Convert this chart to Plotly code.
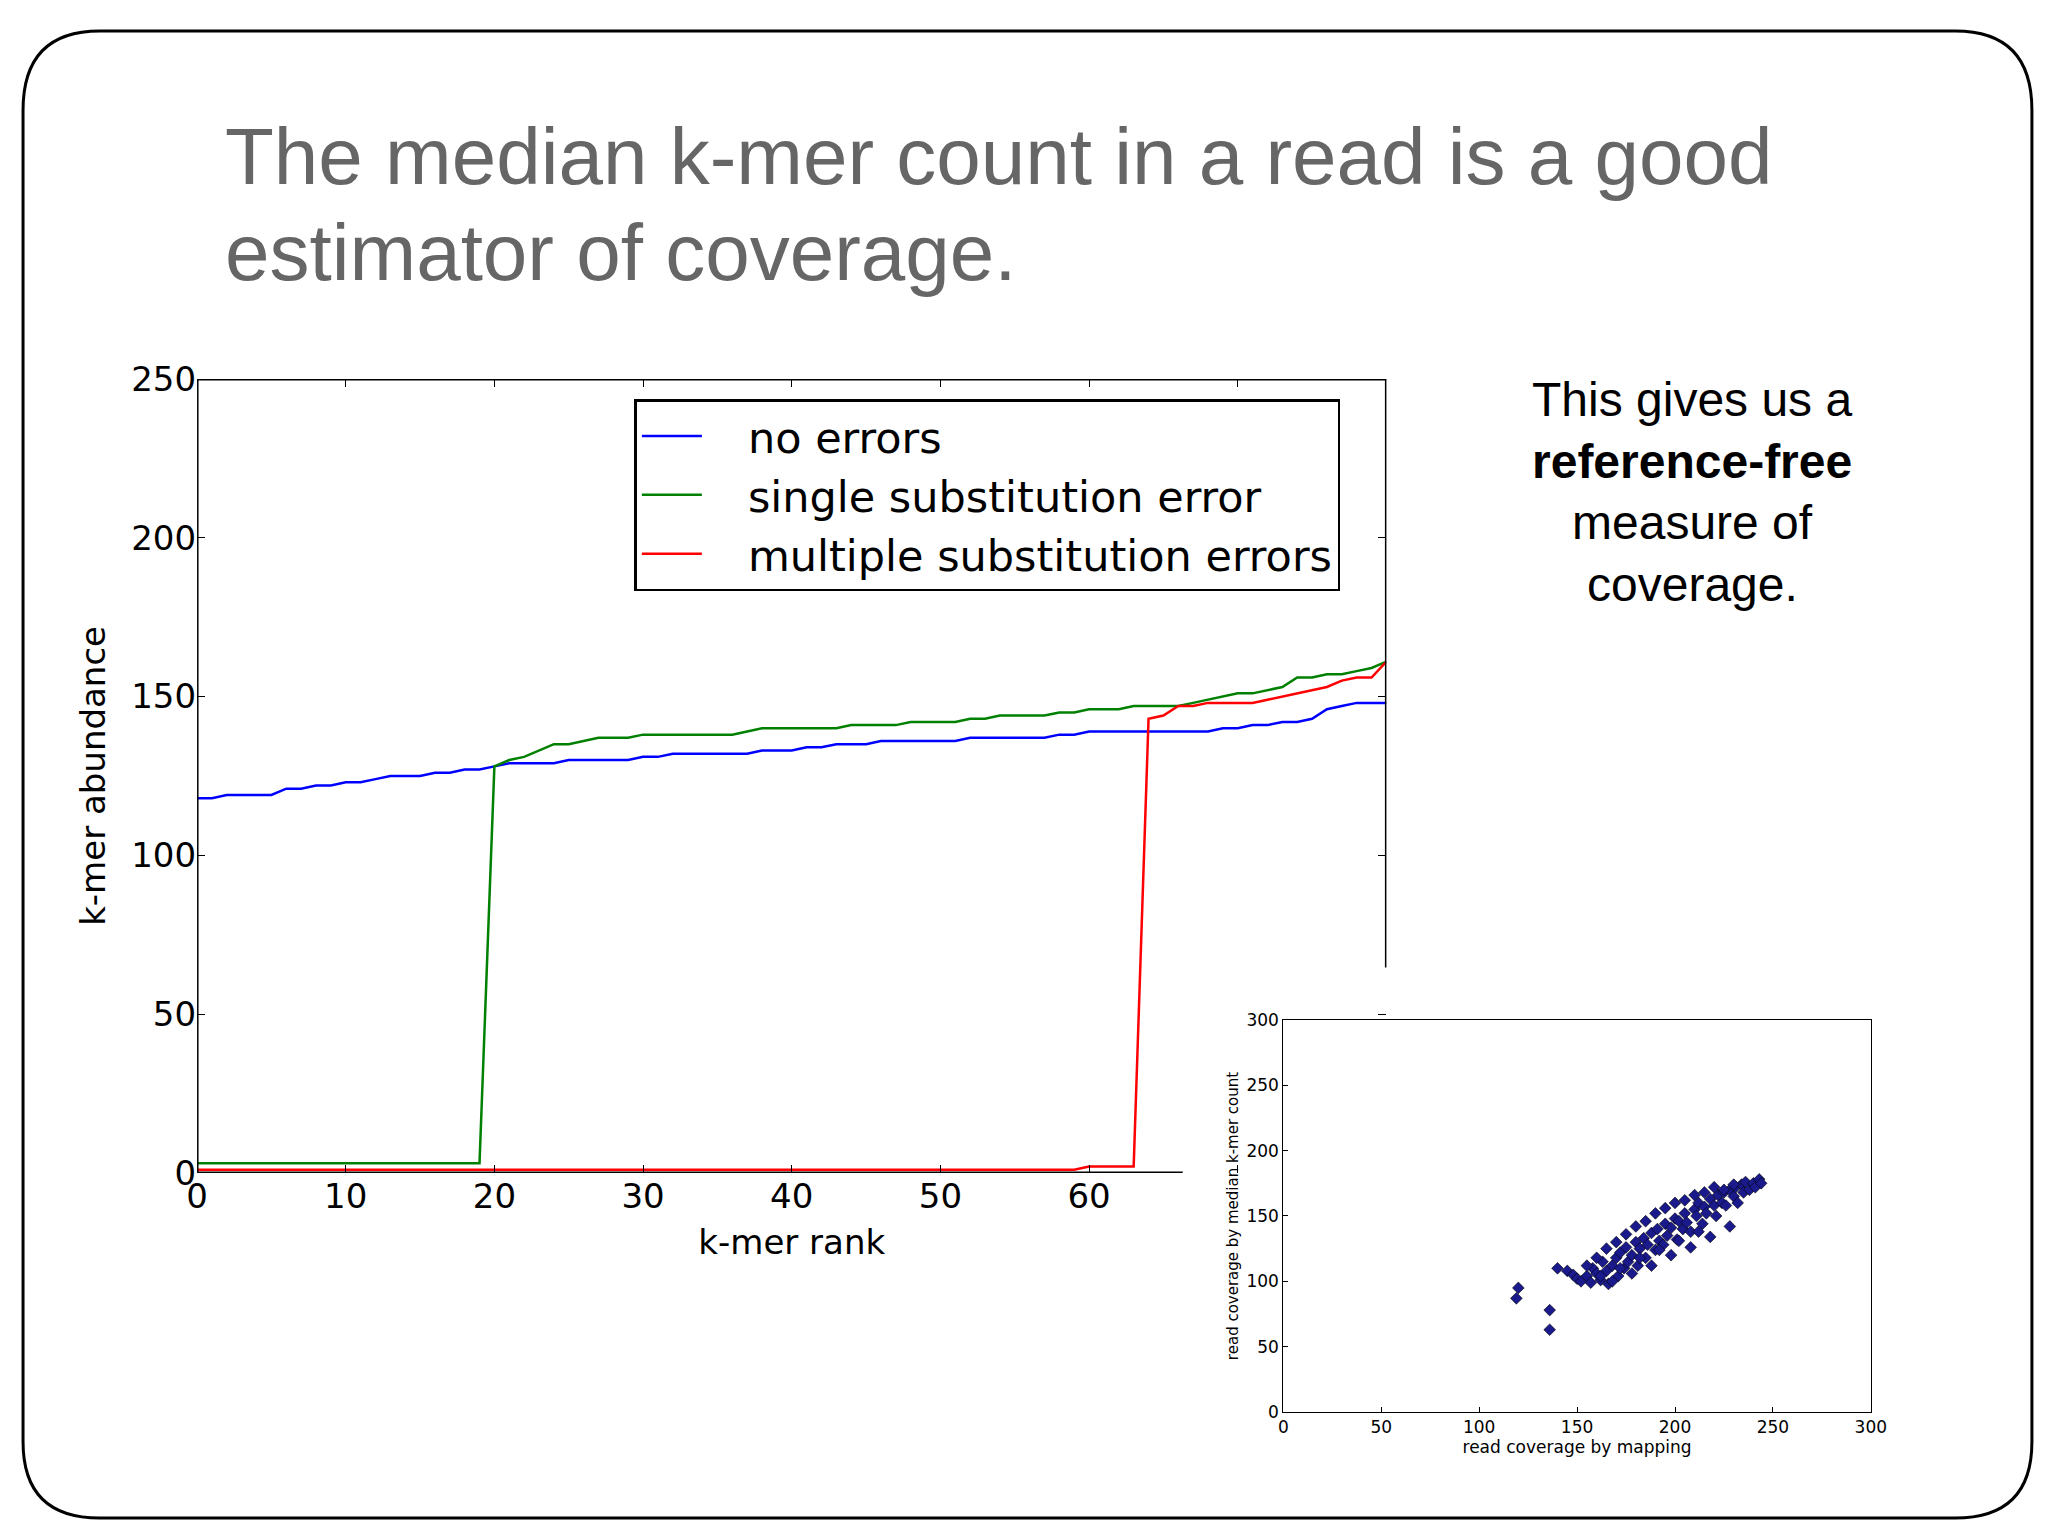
import plotly.graph_objects as go

# main chart data
rank = list(range(81))
no_err = [118, 118, 119, 119, 119, 119, 121, 121, 122, 122, 123, 123, 124, 125, 125, 125, 126, 126, 127, 127,
          128, 129, 129, 129, 129, 130, 130, 130, 130, 130, 131, 131, 132, 132, 132, 132, 132, 132, 133, 133,
          133, 134, 134, 135, 135, 135, 136, 136, 136, 136, 136, 136, 137, 137, 137, 137, 137, 137, 138, 138,
          139, 139, 139, 139, 139, 139, 139, 139, 139, 140, 140, 141, 141, 142, 142, 143, 146, 147, 148, 148, 148]
single = [3] * 20 + [128, 130, 131, 133, 135, 135, 136, 137, 137, 137,
                     138, 138, 138, 138, 138, 138, 138, 139, 140, 140,
                     140, 140, 140, 140, 141, 141, 141, 141, 142, 142,
                     142, 142, 143, 143, 144, 144, 144, 144, 145, 145,
                     146, 146, 146, 147, 147, 147, 147, 148, 149, 150,
                     151, 151, 152, 153, 156, 156, 157, 157, 158, 159, 161]
multi = [1] * 60 + [2, 2, 2, 2, 143, 144, 147, 147, 148, 148, 148, 148, 149, 150, 151, 152, 153, 155, 156, 156, 161]

# inset scatter points (approximate)
map_cov = [120, 119, 136, 136, 140, 145, 148, 150, 152, 155, 157, 158, 160, 162, 163, 165, 166, 168, 170, 171,
           172, 174, 175, 176, 178, 180, 181, 182, 184, 185, 186, 188, 190, 191, 192, 194, 195, 196, 198, 200,
           201, 202, 204, 205, 206, 208, 210, 211, 212, 214, 215, 216, 218, 220, 221, 222, 224, 225, 226, 228,
           230, 231, 232, 234, 235, 236, 238, 240, 241, 243, 244, 160, 165, 170, 175, 180, 185, 190, 195, 200,
           205, 210, 215, 220, 225, 230, 168, 178, 188, 198, 208, 218, 228, 155, 162, 172, 182, 192, 202, 212]
med_cnt = [95, 87, 78, 63, 110, 108, 105, 102, 100, 104, 99, 110, 106, 101, 115, 108, 98, 112, 118, 104,
           122, 110, 126, 115, 120, 130, 112, 125, 133, 118, 128, 137, 124, 140, 131, 128, 144, 135, 141, 148,
           132, 146, 140, 152, 145, 138, 155, 150, 160, 144, 157, 152, 163, 158, 150, 166, 160, 168, 158, 170,
           165, 172, 160, 174, 168, 176, 170, 175, 172, 178, 175, 118, 125, 130, 136, 142, 146, 152, 156, 160,
           162, 166, 168, 172, 170, 174, 100, 106, 112, 120, 126, 134, 142, 112, 104, 110, 118, 124, 131, 138]

font = "DejaVu Sans"
fig = go.Figure()
fig.add_trace(go.Scatter(x=rank, y=no_err, mode="lines", name="   no errors", line=dict(color="#0000ff", width=2.5)))
fig.add_trace(go.Scatter(x=rank, y=single, mode="lines", name="   single substitution error",
                         line=dict(color="#008000", width=2.5)))
fig.add_trace(go.Scatter(x=rank, y=multi, mode="lines", name="   multiple substitution errors",
                         line=dict(color="#ff0000", width=2.5)))
fig.add_trace(go.Scatter(x=map_cov, y=med_cnt, mode="markers", xaxis="x2", yaxis="y2", showlegend=False,
                         marker=dict(symbol="diamond", size=9, color="#1a1a8c", line=dict(color="black", width=0.6))))

ax = dict(showgrid=False, zeroline=False, showline=False, ticks="inside", ticklen=8, tickcolor="black",
          mirror="ticks", tickfont=dict(size=34, color="black"))
fig.update_layout(
    width=2048, height=1536, margin=dict(l=0, r=0, t=0, b=0),
    paper_bgcolor="white", plot_bgcolor="rgba(0,0,0,0)",
    font=dict(family=font, color="black"),
    xaxis=dict(ax, domain=[0.0881, 0.6766], range=[0, 80], tickvals=[0, 10, 20, 30, 40, 50, 60, 70],
               ticktext=["0", "10", "20", "30", "40", "50", "60", ""],
               title=dict(text="k-mer rank", font=dict(size=34)), anchor="y"),
    yaxis=dict(ax, domain=[0.2347, 0.7654], range=[0, 250], tickvals=[0, 50, 100, 150, 200, 250],
               ticksuffix=" ", title=dict(text="k-mer abundance", font=dict(size=34)), anchor="x"),
    xaxis2=dict(showgrid=False, zeroline=False, showline=True, linecolor="black", mirror=True, ticks="inside",
                ticklen=5, tickcolor="black", domain=[0.6256, 0.9163], range=[0, 300], dtick=50,
                tickfont=dict(size=17), title=dict(text="read coverage by mapping", font=dict(size=17), standoff=2),
                anchor="y2"),
    yaxis2=dict(showgrid=False, zeroline=False, showline=True, linecolor="black", mirror=True, ticks="inside",
                ticklen=5, tickcolor="black", domain=[0.0748, 0.337], range=[0, 300], dtick=50,
                tickfont=dict(size=17), title=dict(text="read coverage by median k-mer count", font=dict(size=15),
                                                   standoff=4), anchor="x2"),
    legend=dict(x=0.3045, y=0.752, xanchor="left", yanchor="top", bgcolor="white", bordercolor="black",
                borderwidth=2.5, font=dict(size=43), itemwidth=60),
)

# main chart spines (partly hidden behind the inset in the original)
spine = dict(color="black", width=3)
fig.add_shape(type="line", xref="x", yref="y", x0=0, x1=0, y0=0, y1=250, line=spine)
fig.add_shape(type="line", xref="x", yref="y", x0=0, x1=80, y0=250, y1=250, line=spine)
fig.add_shape(type="line", xref="x", yref="y", x0=0, x1=66.3, y0=0, y1=0, line=spine)
fig.add_shape(type="line", xref="x", yref="y", x0=80, x1=80, y0=64.7, y1=250, line=spine)

# slide frame
fig.add_shape(type="path", xref="paper", yref="paper", line=dict(color="black", width=3),
              path="M 0.04,0.998 L 0.958,0.998 Q 0.996,0.998 0.996,0.945 L 0.996,0.055 Q 0.996,0.004 0.958,0.004 "
                   "L 0.04,0.004 Q 0.002,0.004 0.002,0.055 L 0.002,0.945 Q 0.002,0.998 0.04,0.998 Z")

title_lines = ["The median k-mer count in a read is a good", "estimator of coverage."]
for txt, yy in zip(title_lines, [0.914, 0.850]):
    fig.add_annotation(xref="paper", yref="paper", x=0.101, y=yy, xanchor="left", yanchor="middle",
                       showarrow=False, font=dict(family="Liberation Sans", size=80, color="#666666"), text=txt)

side_lines = ["This gives us a", "<b>reference-free</b>", "measure of", "coverage."]
for txt, yy in zip(side_lines, [0.7514, 0.7103, 0.6692, 0.6281]):
    fig.add_annotation(xref="paper", yref="paper", x=0.828, y=yy, xanchor="center", yanchor="middle",
                       showarrow=False, font=dict(family="Liberation Sans", size=48, color="black"), text=txt)

fig.write_html("out.html")
